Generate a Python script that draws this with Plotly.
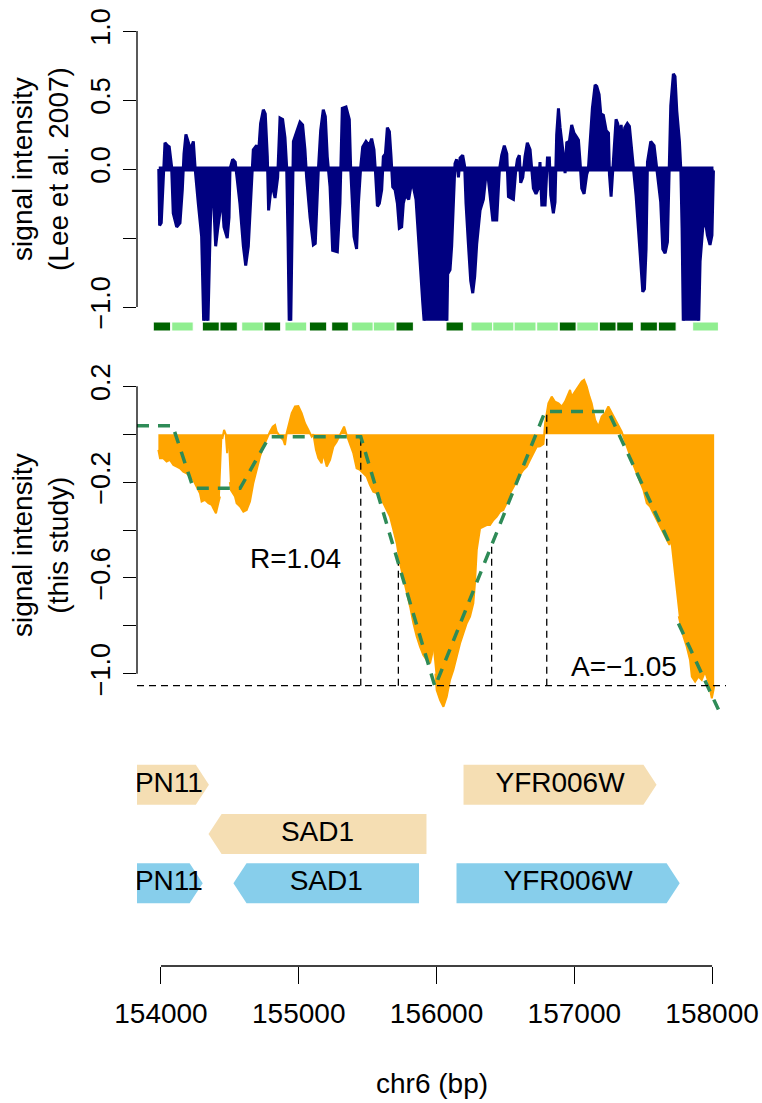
import plotly.graph_objects as go

# ---------------- data ----------------
# Lee et al. 2007 signal (bp, value); -1.2 marks values clipped below the panel
lee_pos = [153984, 153990, 154002, 154017, 154029, 154046, 154060, 154077, 154089, 154114,
           154138, 154155, 154167, 154181, 154198, 154215, 154235, 154249, 154271, 154295,
           154312, 154339, 154356, 154370, 154385, 154397, 154411, 154428, 154443, 154457,
           154481, 154494, 154501, 154520, 154539, 154554, 154573, 154598, 154615, 154634,
           154658, 154670, 154694, 154709, 154723, 154743, 154757, 154772, 154781, 154803,
           154828, 154847, 154864, 154883, 154900, 154912, 154922, 154932, 154941, 154951,
           154961, 154985, 155009, 155028, 155045, 155057, 155082, 155106, 155120, 155142,
           155159, 155178, 155193, 155207, 155227, 155246, 155280, 155299, 155316, 155343,
           155367, 155377, 155391, 155401, 155420, 155433, 155450, 155464, 155488, 155512,
           155529, 155546, 155556, 155571, 155585, 155602, 155614, 155629, 155643, 155658,
           155670, 155682, 155699, 155716, 155730, 155747, 155759, 155771, 155784, 155798,
           155813, 155832, 155851, 155868, 155880, 155900, 155917, 156074, 156081, 156098,
           156110, 156122, 156134, 156146, 156159, 156171, 156190, 156204, 156214, 156231,
           156248, 156263, 156277, 156292, 156316, 156340, 156355, 156369, 156388, 156408,
           156437, 156456, 156473, 156492, 156510, 156522, 156539, 156558, 156575, 156587,
           156601, 156611, 156626, 156642, 156659, 156679, 156703, 156722, 156739, 156751,
           156764, 156788, 156805, 156819, 156829, 156848, 156860, 156872, 156885, 156897,
           156921, 156933, 156945, 156964, 156981, 156998, 157018, 157030, 157042, 157054,
           157071, 157090, 157102, 157114, 157131, 157151, 157163, 157180, 157192, 157211,
           157231, 157248, 157255, 157267, 157279, 157289, 157303, 157315, 157327, 157340,
           157352, 157366, 157385, 157400, 157417, 157434, 157448, 157465, 157482, 157497,
           157509, 157521, 157531, 157545, 157555, 157579, 157594, 157611, 157627, 157642,
           157659, 157676, 157690, 157700, 157719, 157731, 157744, 157763, 157773, 157782,
           157792, 157901, 157913, 157932, 157949, 157966, 157985, 157999, 158010]
lee_val = [0.00, -0.41, -0.39, -0.01, 0.19, 0.17, 0.16, 0.02, -0.32, -0.42,
           -0.39, -0.15, 0.11, 0.25, 0.20, 0.14, 0.20, -0.01, -0.25, -0.49,
           -1.2, -1.2, -0.49, 0.00, -0.30, -0.56, -0.44, -0.32, -0.20, -0.42,
           -0.50, -0.35, 0.00, 0.07, 0.05, -0.08, -0.25, -0.56, -0.70, -0.56,
           -0.08, 0.14, 0.17, 0.13, 0.33, 0.43, 0.40, 0.09, -0.30, -0.10,
           -0.21, -0.06, 0.37, 0.36, 0.23, 0.02, -0.49, -1.2, -1.2, -0.49,
           0.20, 0.27, 0.34, 0.32, 0.14, -0.06, -0.35, -0.55, -0.54, -0.01,
           0.28, 0.43, 0.38, 0.09, -0.13, -0.59, -0.60, -0.25, 0.44, 0.45,
           0.36, 0.00, -0.25, -0.49, -0.58, -0.25, 0.02, 0.16, 0.20, 0.17,
           0.22, 0.14, -0.01, -0.27, -0.25, -0.15, 0.09, 0.11, 0.30, 0.27,
           0.09, -0.13, -0.15, -0.25, -0.43, -0.42, -0.25, -0.20, -0.20, -0.22,
           -0.13, -0.13, -0.22, -0.49, -0.73, -0.97, -1.2, -1.2, -0.76, -0.73,
           -0.56, -0.20, 0.04, 0.07, -0.06, 0.08, 0.10, 0.02, -0.25, -0.54,
           -0.81, -0.90, -0.78, -0.54, -0.30, -0.22, -0.08, -0.01, -0.20, -0.37,
           -0.37, -0.01, 0.10, 0.17, 0.11, -0.20, -0.21, -0.22, -0.01, 0.07,
           0.10, -0.10, -0.06, 0.09, 0.19, 0.14, -0.14, -0.18, -0.14, 0.05,
           -0.26, -0.26, 0.08, 0.08, -0.19, -0.32, -0.24, 0.25, 0.44, 0.30,
           0.10, -0.03, 0.19, 0.20, 0.32, 0.26, 0.23, 0.21, 0.05, -0.14,
           -0.18, -0.04, 0.00, 0.17, 0.44, 0.61, 0.60, 0.54, 0.40, 0.39,
           0.28, 0.26, -0.04, -0.20, -0.02, 0.13, 0.36, 0.33, 0.20, 0.32,
           0.16, 0.30, 0.33, 0.31, 0.15, -0.02, -0.19, -0.43, -0.72, -0.89,
           -0.87, -0.58, 0.05, 0.13, 0.20, 0.17, 0.05, -0.09, -0.24, -0.58,
           -0.61, -0.53, 0.05, 0.46, 0.69, 0.67, 0.42, 0.20, 0.00, -0.43,
           -1.2, -1.2, -0.67, -0.43, -0.36, -0.48, -0.55, -0.48, -0.01]

# nucleosome strip under the top panel
nuc_start = [153944, 154078, 154300, 154428, 154586, 154748, 154900, 155077, 155239, 155384,
             155541, 155706, 156069, 156250, 156408, 156563, 156727, 156891, 157018, 157182,
             157308, 157478, 157610, 157859]
nuc_end = [154070, 154234, 154423, 154554, 154743, 154869, 155058, 155203, 155360, 155541,
           155699, 155832, 156195, 156408, 156563, 156722, 156884, 157013, 157175, 157303,
           157429, 157603, 157739, 158046]
nuc_class = ["well", "fuzzy", "well", "well", "fuzzy", "well", "fuzzy", "well", "well", "fuzzy",
             "fuzzy", "well", "well", "fuzzy", "fuzzy", "fuzzy", "fuzzy", "well", "fuzzy", "well",
             "well", "well", "well", "fuzzy"]

# this study signal (bp, value); None = missing probes
own_pos = [153981, 153993, 154017, 154041, 154065, 154090, 154114, 154138, 154162, 154186,
           154211, 154235, 154259, 154283, 154295, 154319, 154344, 154368, 154380, 154399,
           154416, 154428, 154434, 154445, 154458, 154470, 154480, 154488, 154494, 154500,
           154508, 154537, 154549, 154574, 154598, 154622, 154646, 154670, 154695, 154719,
           154743, 154767, 154791, 154811, 154828, 154840, 154864, 154888, 154900, 154912,
           154932, 154949, 154973, 154997, 155021, 155045, 155070, 155094, 155106, 155125,
           155142, 155166, 155178, 155191, 155203, 155227, 155251, 155275, 155299, 155329,
           155348, 155372, 155396, 155420, 155445, 155469, 155493, 155517, 155541, 155566,
           155590, 155614, 155638, 155662, 155687, 155711, 155735, 155759, 155783, 155808,
           155832, 155856, 155880, 155904, 155929, 155953, 155975, 155984, 155992, 156001,
           156026, 156050, 156074, 156098, 156122, 156146, 156171, 156195, 156219, 156243,
           156267, 156279, 156292, 156316, 156340, 156364, 156388, 156413, 156437, 156461,
           156485, 156509, 156534, 156558, 156582, 156606, 156630, 156655, 156679, 156703,
           156727, 156751, 156776, 156788, 156812, 156836, 156860, 156885, 156909, 156933,
           156957, 156969, 156981, 157006, 157030, 157054, 157071, 157090, 157110, 157126,
           157151, 157175, 157199, 157223, 157247, 157272, 157296, 157320, 157344, 157356,
           157381, 157405, 157429, 157453, 157477, 157502, 157526, 157550, 157574, 157598,
           157623, 157647, 157671, 157690, 157698, 157728, 157758, 157768, 157792, 157816,
           157840, 157853, 157877, 157901, 157925, 157949, 157973, 157986, 157998, 158010,
           158015]
own_val = [-0.065, -0.10, -0.10, -0.114, -0.107, -0.128, -0.135, -0.142, -0.156, -0.163,
           -0.177, -0.191, -0.219, -0.247, -0.281, -0.274, -0.288, -0.295, -0.309, -0.33,
           -0.288, -0.26, None, -0.02, 0.018, 0.0, -0.079, -0.05, None, -0.20,
           -0.233, -0.26, -0.288, -0.302, -0.323, -0.316, -0.281, -0.205, -0.149, -0.093,
           -0.052, -0.017, 0.011, 0.032, 0.039, 0.011, -0.01, -0.024, -0.045, 0.004,
           0.053, 0.088, 0.116, 0.118, 0.088, 0.046, 0.018, -0.01, 0.0, -0.065,
           -0.10, -0.121, -0.079, -0.107, -0.135, -0.107, -0.052, -0.031, -0.003, 0.032,
           -0.003, -0.038, -0.079, -0.142, -0.149, -0.163, -0.177, -0.212, -0.24, -0.246,
           -0.253, -0.288, -0.316, -0.344, -0.40, -0.455, -0.539, -0.595, -0.65, -0.72,
           -0.789, -0.845, -0.887, -0.922, -0.943, -0.957, -0.90, None, -1.0, -1.068,
           -1.11, -1.138, -1.096, -1.026, -0.984, -0.929, -0.873, -0.831, -0.789, -0.762,
           -0.706, -0.622, -0.483, -0.393, -0.386, -0.379, -0.379, -0.358, -0.344, -0.323,
           -0.316, -0.288, -0.246, -0.219, -0.191, -0.17, -0.149, -0.135, -0.107, -0.079,
           -0.052, -0.05, -0.04, 0.046, 0.129, 0.157, 0.136, 0.129, 0.116, 0.136,
           0.171, 0.185, 0.157, 0.178, 0.199, 0.22, 0.227, 0.199, 0.157, 0.129,
           0.06, 0.032, 0.074, 0.088, 0.116, 0.088, 0.06, 0.032, 0.011, -0.01,
           -0.052, -0.093, -0.128, -0.163, -0.198, -0.233, -0.288, -0.302, -0.33, -0.358,
           -0.386, -0.414, -0.441, -0.462, -0.45, None, -0.76, -0.789, -0.845, -0.887,
           -0.943, -1.012, -1.033, -1.012, -1.026, -0.991, -1.033, -1.068, -1.103, -1.068,
           -1.05]

# fitted profile (dashed green), None = break
fit_pos = [153826, 154085, 154235, 154574, 154787, 155450, 155989, 156788, 157247, 157695,
           157725, 157756, 158046]
fit_val = [0.035, 0.035, -0.226, -0.226, -0.01, -0.01, -1.054, 0.095, 0.095, -0.46,
           None, -0.79, -1.15]

# markers of the fitted profile (vertical dashed lines)
mark_pos = [155450, 155723, 156400, 156800]
mark_top = [-0.01, -0.53, -0.47, 0.095]
A_value = -1.05
R_value = 1.04

# genes
gene_name = ["RPN11", "YFR006W", "SAD1", "RPN11", "SAD1", "YFR006W"]
gene_start = [153620, 156196, 154345, 153665, 154526, 156145]
gene_end = [154348, 157597, 155927, 154303, 155873, 157765]
gene_strand = ["+", "+", "-", "+", "-", "+"]
gene_row = [1, 1, 2, 3, 3, 3]
gene_track = ["a", "a", "a", "b", "b", "b"]

x_ticks = [154000, 155000, 156000, 157000, 158000]
top_ticks = [-1.0, -0.5, 0.0, 0.5, 1.0]
top_ticktext = ["\u22121.0", "", "0.0", "0.5", "1.0"]
mid_ticks = [0.2, 0.0, -0.2, -0.4, -0.6, -0.8, -1.0]
mid_ticktext = ["0.2", "", "\u22120.2", "", "\u22120.6", "", "\u22121.0"]

# ---------------- styling helpers ----------------
W, H = 762, 1103
FONT = "Liberation Sans, Arial, sans-serif"
NAVY = "#000080"
ORANGE = "#FFA500"
SEAGREEN = "#2E8B57"
nuc_color = {"well": "#006400", "fuzzy": "#90EE90"}
track_color = {"a": "#F5DEB3", "b": "#87CEEB"}


def py(px):
    return 1 - px / H


x_dom = [137 / W, 726 / W]
x_rng = [153826, 158101]

fig = go.Figure()

# top panel
fig.add_trace(go.Scatter(x=lee_pos, y=lee_val, mode="lines", fill="tozeroy",
                         fillcolor=NAVY, line=dict(color=NAVY, width=3),
                         xaxis="x", yaxis="y", hoverinfo="skip"))
fig.add_trace(go.Scatter(x=[lee_pos[0], lee_pos[-1]], y=[0, 0], mode="lines",
                         line=dict(color=NAVY, width=5), xaxis="x", yaxis="y", hoverinfo="skip"))

# nucleosome strip
centers = [(s + e) / 2 for s, e in zip(nuc_start, nuc_end)]
widths = [e - s for s, e in zip(nuc_start, nuc_end)]
fig.add_trace(go.Bar(x=centers, y=[1] * len(centers), base=0, width=widths,
                     marker=dict(color=[nuc_color[c] for c in nuc_class],
                                 line=dict(color="white", width=1)),
                     xaxis="x", yaxis="y2", hoverinfo="skip"))

# middle panel
fig.add_trace(go.Scatter(x=own_pos, y=own_val, mode="lines", fill="tozeroy",
                         fillcolor=ORANGE, line=dict(color=ORANGE, width=2),
                         connectgaps=False, xaxis="x", yaxis="y3", hoverinfo="skip"))
for p, t in zip(mark_pos, mark_top):
    fig.add_trace(go.Scatter(x=[p, p], y=[A_value, t], mode="lines",
                             line=dict(color="black", width=1.3, dash="7px,5px"),
                             xaxis="x", yaxis="y3", hoverinfo="skip"))
fig.add_shape(type="line", xref="x domain", x0=0, x1=1, yref="y3", y0=A_value, y1=A_value,
              line=dict(color="black", width=1.3, dash="7px,5px"))
fig.add_trace(go.Scatter(x=fit_pos, y=fit_val, mode="lines", connectgaps=False,
                         line=dict(color=SEAGREEN, width=3.5, dash="12px,9px"),
                         xaxis="x", yaxis="y3", hoverinfo="skip"))

# genes
head = 95
hh = 0.405
for name, s, e, st, r, tr in zip(gene_name, gene_start, gene_end, gene_strand, gene_row, gene_track):
    if st == "+":
        xs = [s, e - head, e, e - head, s, s]
    else:
        xs = [e, s + head, s, s + head, e, e]
    ys = [r - hh, r - hh, r, r + hh, r + hh, r - hh]
    fig.add_trace(go.Scatter(x=xs, y=ys, mode="lines", fill="toself",
                             fillcolor=track_color[tr], line=dict(width=0, color=track_color[tr]),
                             xaxis="x", yaxis="y4", hoverinfo="skip"))
    fig.add_trace(go.Scatter(x=[(s + e) / 2], y=[r], mode="text", text=[name],
                             textfont=dict(family=FONT, size=28, color="black"),
                             cliponaxis=True, xaxis="x", yaxis="y4", hoverinfo="skip"))

# annotations
ann_font = dict(family=FONT, size=28, color="black")
fig.add_annotation(x=154973, y=-0.517, xref="x", yref="y3", text="R=%.2f" % R_value,
                   xanchor="center", yanchor="middle", showarrow=False, font=ann_font)
fig.add_annotation(x=157361, y=-0.97, xref="x", yref="y3",
                   text="A=" + ("%.2f" % A_value).replace("-", "\u2212"),
                   xanchor="center", yanchor="middle", showarrow=False, font=ann_font)
fig.add_annotation(x=40 / W, y=py(169), xref="paper", yref="paper", textangle=-90,
                   text="signal intensity<br>(Lee et al. 2007)", showarrow=False,
                   xanchor="center", yanchor="middle", font=ann_font)
fig.add_annotation(x=40 / W, y=py(545), xref="paper", yref="paper", textangle=-90,
                   text="signal intensity<br>(this study)", showarrow=False,
                   xanchor="center", yanchor="middle", font=ann_font)
fig.add_annotation(x=0.5, y=py(1083), xref="x domain", yref="paper", text="chr6 (bp)",
                   xanchor="center", yanchor="middle", showarrow=False, font=ann_font)

# axis lines (R style: only across the tick range)
fig.add_shape(type="line", xref="paper", x0=x_dom[0], x1=x_dom[0], yref="y",
              y0=top_ticks[0], y1=top_ticks[-1], line=dict(color="black", width=1.3))
fig.add_shape(type="line", xref="paper", x0=x_dom[0], x1=x_dom[0], yref="y3",
              y0=mid_ticks[-1], y1=mid_ticks[0], line=dict(color="black", width=1.3))
fig.add_shape(type="line", xref="x", x0=x_ticks[0], x1=x_ticks[-1], yref="paper",
              y0=py(966), y1=py(966), line=dict(color="black", width=1.3))

tickfont = dict(family=FONT, size=27, color="black")
fig.update_layout(
    width=W, height=H, margin=dict(l=0, r=0, t=0, b=0, autoexpand=False),
    paper_bgcolor="white", plot_bgcolor="white", showlegend=False,
    xaxis=dict(domain=x_dom, range=x_rng, anchor="free", position=py(966), automargin=False,
               tickvals=x_ticks, ticktext=[str(t) for t in x_ticks],
               ticks="outside", ticklen=17, tickwidth=1.3, tickcolor="black",
               showline=False, showgrid=False, zeroline=False,
               tickfont=dict(family=FONT, size=28, color="black"), ticklabelstandoff=5),
    yaxis=dict(domain=[py(320.8), py(20)], range=[-1.1, 1.08], anchor="x", automargin=False,
               tickvals=top_ticks, ticktext=top_ticktext, tickangle=-90,
               ticks="outside", ticklen=13, tickwidth=1.3, tickcolor="black",
               showline=False, showgrid=False, zeroline=False, tickfont=tickfont,
               ticklabelstandoff=2),
    yaxis2=dict(domain=[py(331), py(322)], range=[0, 1], anchor="x", visible=False),
    yaxis3=dict(domain=[py(714.4), py(372)], range=[-1.17, 0.26], anchor="x", automargin=False,
                tickvals=mid_ticks, ticktext=mid_ticktext, tickangle=-90,
                ticks="outside", ticklen=13, tickwidth=1.3, tickcolor="black",
                showline=False, showgrid=False, zeroline=False, tickfont=tickfont,
                ticklabelstandoff=2),
    yaxis4=dict(domain=[py(908), py(760)], range=[3.5, 0.5], anchor="x", visible=False),
)

fig.write_html("out.html", config={"displayModeBar": False},
               post_script="document.body.style.margin='0';document.body.style.overflow='hidden';")
